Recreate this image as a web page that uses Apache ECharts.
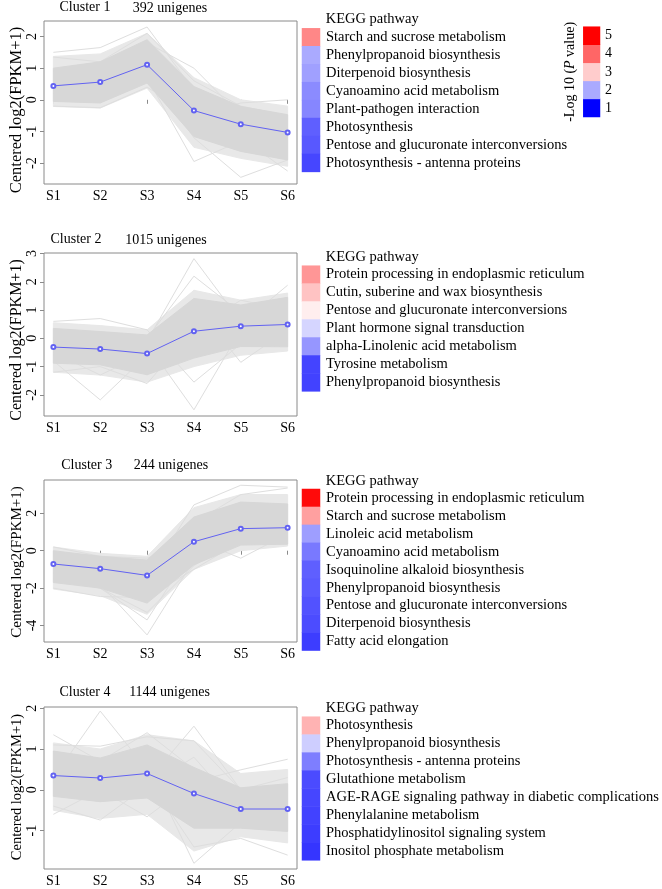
<!DOCTYPE html>
<html><head><meta charset="utf-8">
<script src="https://cdn.jsdelivr.net/npm/echarts@6/dist/echarts.min.js"></script>
<style>html,body{margin:0;padding:0;background:#fff}#c{width:662px;height:889px}</style>
</head><body><div id="c"></div>
<script>
// ---------------- data ----------------
const samples = ['S1','S2','S3','S4','S5','S6'];
const clusterNames = ['Cluster 1','Cluster 2','Cluster 3','Cluster 4'];
const clusterCounts = ['392 unigenes','1015 unigenes','244 unigenes','1144 unigenes'];

// mean profiles (blue line)
const c1Mean = [0.44, 0.56, 1.11, -0.34, -0.77, -1.03];
const c2Mean = [-0.31, -0.38, -0.54, 0.25, 0.43, 0.49];
const c3Mean = [-0.71, -0.96, -1.32, 0.48, 1.18, 1.23];
const c4Mean = [0.35, 0.29, 0.40, -0.09, -0.47, -0.47];

// dense core of the unigene profiles (upper / lower edge)
const c1CoreUpper = [1.00, 1.20, 1.90, 0.42, -0.21, -0.47];
const c1CoreLower = [-0.05, -0.10, 0.53, -1.16, -1.63, -1.90];
const c2CoreUpper = [0.35, 0.24, 0.12, 1.41, 1.18, 1.45];
const c2CoreLower = [-0.88, -0.94, -1.29, -0.70, -0.29, -0.30];
const c3CoreUpper = [0.00, -0.30, -0.50, 1.80, 2.60, 2.50];
const c3CoreLower = [-1.70, -2.00, -2.80, -0.75, 0.30, 0.35];
const c4CoreUpper = [0.95, 0.78, 1.10, 0.55, 0.05, 0.15];
const c4CoreLower = [-0.16, -0.29, -0.20, -0.94, -0.94, -1.02];

// sparser fringe of the profiles
const c1OuterUpper = [1.37, 1.45, 2.10, 0.70, 0.00, -0.20];
const c1OuterLower = [-0.21, -0.26, 0.37, -1.50, -1.85, -2.10];
const c2OuterUpper = [0.55, 0.45, 0.30, 1.70, 1.35, 1.60];
const c2OuterLower = [-1.20, -1.30, -1.55, -1.00, -0.60, -0.45];
const c3OuterUpper = [0.20, -0.14, -0.30, 2.30, 3.00, 3.00];
const c3OuterLower = [-2.05, -2.40, -3.40, -1.00, 0.00, 0.25];
const c4OuterUpper = [1.15, 1.00, 1.35, 1.20, 0.40, 0.50];
const c4OuterLower = [-0.50, -0.70, -0.60, -1.50, -1.15, -1.30];

// individual outlying unigene profiles
const c1Outliers = [
  [1.50, 1.65, 2.30, 0.30, -0.40, -0.80],
  [0.90, 1.10, 1.80, 1.00, -0.50, -1.20],
  [0.30, 0.40, 0.70, -1.95, -1.30, -1.50],
  [0.20, 0.30, 0.90, -1.20, -2.45, -1.90],
  [-0.20, -0.25, 0.40, -0.50, -0.10, 0.00],
  [0.60, 0.70, 1.20, -0.80, -1.20, -2.25],
  [1.35, 1.20, 2.10, 0.60, -0.20, -0.50]
];
const c2Outliers = [
  [-0.20, -0.30, -0.10, 2.82, 0.60, 0.50],
  [0.00, -0.20, 0.00, 2.20, 0.90, 0.60],
  [-0.60, -0.50, -0.20, -2.53, 0.30, 0.40],
  [-0.80, -2.18, -0.60, 0.20, 0.30, 0.20],
  [0.60, 0.70, 0.30, -1.55, -0.20, 0.10],
  [-1.20, -1.00, -1.60, 0.30, 1.35, 1.00],
  [-0.30, -0.60, -0.80, -0.40, 0.50, 1.88],
  [-0.50, -1.30, -0.50, 1.20, -0.85, 0.30]
];
const c3Outliers = [
  [-0.90, -1.80, -4.50, -0.50, 1.50, 1.20],
  [-1.20, -2.00, -3.70, 0.20, 1.00, 0.80],
  [-0.50, -1.00, -1.50, 2.45, 3.50, 3.40],
  [0.20, -0.30, -0.40, 0.60, -0.40, 0.90],
  [-2.00, -2.45, -2.50, -1.00, 0.50, 0.50],
  [-0.30, -0.40, -0.90, 1.50, 3.00, 3.35],
  [-1.50, -2.00, -3.30, -0.80, 0.80, 2.30]
];
const c4Outliers = [
  [0.30, 1.93, 0.50, 0.00, -0.50, -0.60],
  [0.20, 0.10, 0.20, 1.56, 0.00, -0.30],
  [0.50, 0.30, 0.60, -1.80, -0.80, -0.40],
  [1.35, 0.70, 1.40, 0.50, -0.60, -0.70],
  [-0.60, 0.00, -0.66, 0.20, 0.49, 0.75],
  [0.40, 0.40, 0.30, -1.40, -1.19, -1.60],
  [-0.40, -0.74, 0.10, 0.80, -0.50, -0.30],
  [1.10, 1.07, 1.30, 1.20, 0.00, 0.30]
];

// y-axis tick labels
const c1Ticks = [-2, -1, 0, 1, 2];
const c2Ticks = [-2, -1, 0, 1, 2, 3];
const c3Ticks = [-4, -2, 0, 2];
const c4Ticks = [-1, 0, 1, 2];

// KEGG pathways and -log10(P)
const kegg1Names = ['Starch and sucrose metabolism','Phenylpropanoid biosynthesis','Diterpenoid biosynthesis','Cyanoamino acid metabolism','Plant-pathogen interaction','Photosynthesis','Pentose and glucuronate interconversions','Photosynthesis - antenna proteins'];
const kegg1Values = [3.68, 2.00, 1.94, 1.82, 1.79, 1.56, 1.52, 1.41];
const kegg2Names = ['Protein processing in endoplasmic reticulum','Cutin, suberine and wax biosynthesis','Pentose and glucuronate interconversions','Plant hormone signal transduction','alpha-Linolenic acid metabolism','Tyrosine metabolism','Phenylpropanoid biosynthesis'];
const kegg2Values = [3.53, 3.09, 2.67, 2.25, 1.88, 1.40, 1.39];
const kegg3Names = ['Protein processing in endoplasmic reticulum','Starch and sucrose metabolism','Linoleic acid metabolism','Cyanoamino acid metabolism','Isoquinoline alkaloid biosynthesis','Phenylpropanoid biosynthesis','Pentose and glucuronate interconversions','Diterpenoid biosynthesis','Fatty acid elongation'];
const kegg3Values = [4.90, 3.43, 1.93, 1.71, 1.56, 1.53, 1.48, 1.45, 1.36];
const kegg4Names = ['Photosynthesis','Phenylpropanoid biosynthesis','Photosynthesis - antenna proteins','Glutathione metabolism','AGE-RAGE signaling pathway in diabetic complications','Phenylalanine metabolism','Phosphatidylinositol signaling system','Inositol phosphate metabolism'];
const kegg4Values = [3.25, 2.21, 1.74, 1.44, 1.41, 1.39, 1.36, 1.31];

const legendLevels = ['1','2','3','4','5'];

// ---------------- layout ----------------
const FONT = '"Liberation Serif", "Times New Roman", serif';
const panels = [
  {mean:c1Mean, cu:c1CoreUpper, cl:c1CoreLower, ou:c1OuterUpper, ol:c1OuterLower, out:c1Outliers, ticks:c1Ticks, ymin:-2.66, ymax:2.49, top:21, h:163,
   kn:kegg1Names, kv:kegg1Values, ktop:28.3, khead:19.3, t1:[85,7], t2:[170,8], yname:[17,110], ynFont:16.5},
  {mean:c2Mean, cu:c2CoreUpper, cl:c2CoreLower, ou:c2OuterUpper, ol:c2OuterLower, out:c2Outliers, ticks:c2Ticks, ymin:-2.75, ymax:3.02, top:253, h:163,
   kn:kegg2Names, kv:kegg2Values, ktop:265.7, khead:257.3, t1:[76,239], t2:[166,240.5], yname:[17,340], ynFont:16},
  {mean:c3Mean, cu:c3CoreUpper, cl:c3CoreLower, ou:c3OuterUpper, ol:c3OuterLower, out:c3Outliers, ticks:c3Ticks, ymin:-4.88, ymax:3.78, top:480, h:162,
   kn:kegg3Names, kv:kegg3Values, ktop:489, khead:480.7, t1:[86.7,465], t2:[171,465], yname:[17,562], ynFont:15},
  {mean:c4Mean, cu:c4CoreUpper, cl:c4CoreLower, ou:c4OuterUpper, ol:c4OuterLower, out:c4Outliers, ticks:c4Ticks, ymin:-1.94, ymax:2.03, top:707, h:162,
   kn:kegg4Names, kv:kegg4Values, ktop:716.7, khead:708.3, t1:[85,692], t2:[169.5,692.5], yname:[17,787], ynFont:14.5}
];
const ROW_H = 17.95;
const AX = '#8a8a8a';
const MEAN_COLOR = '#6262f2';

const grid = [], xAxis = [], yAxis = [], series = [], graphic = [];
const heatIdx = [];

function band(p, upper, lower, color, z){
  return {type:'custom', xAxisIndex:p, yAxisIndex:p, z:z, silent:true, animation:false,
    data:[[1, lower[0]]],
    renderItem:function(params, api){
      const pts=[];
      for(let i=0;i<upper.length;i++) pts.push(api.coord([i+1, upper[i]]));
      for(let i=lower.length-1;i>=0;i--) pts.push(api.coord([i+1, lower[i]]));
      return {type:'polygon', shape:{points:pts}, style:{fill:color, stroke:color, lineWidth:1}};
    }};
}

panels.forEach((P, p) => {
  grid.push({left:44, top:P.top, width:253, height:P.h, show:true, borderColor:AX, borderWidth:1, backgroundColor:'transparent'});
  const xs = samples.map((s,i)=>i+1);
  xAxis.push({gridIndex:p, type:'value', min:0.8, max:6.2, splitLine:{show:false}, axisLine:{show:false},
    axisTick:{show:true, customValues:xs, length:4, lineStyle:{color:AX}},
    axisLabel:{customValues:xs, formatter:v=>samples[Math.round(v)-1], fontFamily:FONT, fontSize:14, color:'#000', margin:5}});
  yAxis.push({gridIndex:p, type:'value', min:P.ymin, max:P.ymax, splitLine:{show:false}, axisLine:{show:false},
    axisTick:{show:true, customValues:P.ticks, length:4, lineStyle:{color:AX}},
    axisLabel:{customValues:P.ticks, rotate:90, fontFamily:FONT, fontSize:14, color:'#000', margin:5}});
  series.push(band(p, P.ou, P.ol, '#e8e8e8', 1));
  series.push(band(p, P.cu, P.cl, '#d7d7d7', 3));
  P.out.forEach(o => series.push({type:'line', xAxisIndex:p, yAxisIndex:p, z:2, silent:true, animation:false, symbol:'none',
    data:o.map((v,i)=>[i+1,v]), lineStyle:{color:'#dedede', width:1}}));
  series.push({type:'line', xAxisIndex:p, yAxisIndex:p, z:5, silent:true, animation:false, symbol:'emptyCircle', symbolSize:4,
    data:P.mean.map((v,i)=>[i+1,v]), lineStyle:{color:MEAN_COLOR, width:1}, itemStyle:{color:MEAN_COLOR, borderWidth:1}});

  graphic.push({type:'text', x:P.t1[0], y:P.t1[1], style:{text:clusterNames[p], font:'14px '+FONT, fill:'#000', textAlign:'center', textVerticalAlign:'middle'}});
  graphic.push({type:'text', x:P.t2[0], y:P.t2[1], style:{text:clusterCounts[p], font:'14px '+FONT, fill:'#000', textAlign:'center', textVerticalAlign:'middle'}});
  graphic.push({type:'text', x:P.yname[0], y:P.yname[1], rotation:Math.PI/2, style:{text:'Centered log2(FPKM+1)', font:P.ynFont+'px '+FONT, fill:'#000', textAlign:'center', textVerticalAlign:'middle'}});
  graphic.push({type:'text', x:325.7, y:P.khead, style:{text:'KEGG pathway', font:'14.5px '+FONT, fill:'#000', textAlign:'left', textVerticalAlign:'middle'}});
});

// KEGG heatmap columns
panels.forEach((P, p) => {
  const gi = grid.length;
  grid.push({left:302, top:P.ktop, width:18, height:ROW_H*P.kn.length});
  xAxis.push({gridIndex:gi, type:'category', data:['p'], show:false});
  yAxis.push({gridIndex:gi, type:'category', data:P.kn, inverse:true, position:'right',
    axisLine:{show:false}, axisTick:{show:false}, splitLine:{show:false},
    axisLabel:{interval:0, fontFamily:FONT, fontSize:14.5, color:'#000', margin:6}});
  heatIdx.push(series.length);
  series.push({type:'heatmap', xAxisIndex:gi, yAxisIndex:gi, silent:true, animation:false,
    data:P.kv.map((v,i)=>[0,i,v]), itemStyle:{borderWidth:0}});
});

// colour bar
const cg = grid.length;
grid.push({left:583.3, top:26.7, width:16.7, height:90.3});
xAxis.push({gridIndex:cg, type:'category', data:['k'], show:false});
const cyi = yAxis.length;
yAxis.push({gridIndex:cg, type:'category', data:legendLevels, position:'right',
  axisLine:{show:false}, axisTick:{show:false}, splitLine:{show:false},
  axisLabel:{interval:0, fontFamily:FONT, fontSize:14, color:'#000', margin:5}});
yAxis.push({gridIndex:cg, type:'category', data:legendLevels, position:'left',
  axisLine:{show:false}, axisTick:{show:false}, axisLabel:{show:false}, splitLine:{show:false},
  name:'-Log 10 ({i|P} value)', nameLocation:'middle', nameRotate:90, nameGap:6,
  nameTextStyle:{fontFamily:FONT, fontSize:14, color:'#000', rich:{i:{fontFamily:FONT, fontSize:14, fontStyle:'italic', color:'#000'}}}});
heatIdx.push(series.length);
series.push({type:'heatmap', xAxisIndex:cg, yAxisIndex:cyi, silent:true, animation:false,
  data:legendLevels.map((v,i)=>[0,i,Number(v)]), itemStyle:{borderWidth:0}});

const chart = echarts.init(document.getElementById('c'), null, {renderer:'canvas'});
chart.setOption({
  animation:false,
  backgroundColor:'#fff',
  grid, xAxis, yAxis, series, graphic,
  visualMap:{type:'continuous', show:false, min:1, max:5, seriesIndex:heatIdx,
    inRange:{color:['#0000ff','#5555ff','#aaaaff','#ffffff','#ffcccc','#ff9999','#ff6666','#ff3333','#ff0000']}}
});
</script></body></html>
